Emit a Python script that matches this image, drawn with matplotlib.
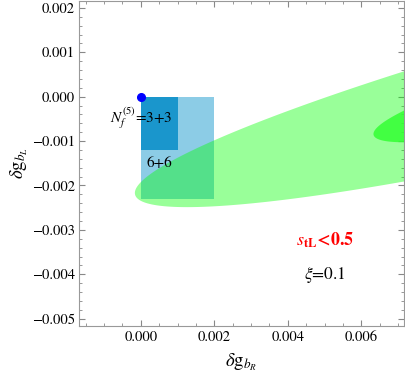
import matplotlib
matplotlib.use('Agg')
import matplotlib.pyplot as plt
import numpy as np
from matplotlib.ticker import MultipleLocator

plt.rcParams['font.family'] = ['STIXGeneral', 'DejaVu Serif']
plt.rcParams['mathtext.fontset'] = 'stix'

# rectangles (x range, y range)
rect_66_x = [0.0, 0.002]
rect_66_y = [-0.0023, 0.0]
rect_33_x = [0.0, 0.001]
rect_33_y = [-0.0012, 0.0]

# allowed region: sheared ellipse (centre, semi x, slope of axis, semi y)
ell_center = [0.01544, 0.001025]
ell_semi_x = 0.0156
ell_slope = 0.2047
ell_semi_y = 0.001464
ell_scales = [1.0, 0.584]
ell_colors = [(0.0, 1.0, 0.0, 0.4), (0.2, 1.0, 0.2, 0.85)]

point_x = [0.0]
point_y = [0.0]

fig = plt.figure(figsize=(4.05, 3.75), dpi=100)
ax = fig.add_axes([0.195, 0.1307, 0.8025, 0.8666])

ax.fill_between(rect_66_x, rect_66_y[0], rect_66_y[1], color='#8ccce6', lw=0, zorder=1)
ax.fill_between(rect_33_x, rect_33_y[0], rect_33_y[1], color='#1a96cc', lw=0, zorder=2)

t = np.linspace(0, 2 * np.pi, 400)
for s, c in zip(ell_scales, ell_colors):
    ex = ell_center[0] + s * ell_semi_x * np.cos(t)
    ey = ell_center[1] + ell_slope * s * ell_semi_x * np.cos(t) + s * ell_semi_y * np.sin(t)
    ax.fill(ex, ey, color=c, lw=0, zorder=3)

ax.plot(point_x, point_y, 'o', color='#0000ff', ms=5.5, zorder=5, clip_on=False)

ax.text(0.0, -0.00048, r'$N_f^{(5)}$=3+3', ha='center', va='center', fontsize=11, zorder=6)
ax.text(0.0005, -0.0015, '6+6', ha='center', va='center', fontsize=11, zorder=6)
ax.text(0.005, -0.00323, r'$\mathbf{\mathit{s}_{tL}}$<0.5', ha='center', va='center',
        fontsize=13, color='#ff0000', fontweight='bold', zorder=6)
ax.text(0.005, -0.00402, r'$\xi$=0.1', ha='center', va='center', fontsize=12.5, zorder=6)

ax.set_xlim(-0.00168, 0.00716)
ax.set_ylim(-0.005165, 0.002155)

ax.set_xticks([0.0, 0.002, 0.004, 0.006])
ax.set_xticklabels(['0.000', '0.002', '0.004', '0.006'])
ax.set_yticks([-0.005, -0.004, -0.003, -0.002, -0.001, 0.0, 0.001, 0.002])
ax.set_yticklabels(['\u22120.005', '\u22120.004', '\u22120.003', '\u22120.002',
                    '\u22120.001', '0.000', '0.001', '0.002'])
ax.xaxis.set_minor_locator(MultipleLocator(0.0005))
ax.yaxis.set_minor_locator(MultipleLocator(0.0002))
ax.tick_params(which='both', direction='in', top=True, right=True, color='#888888',
               labelsize=10.5, pad=3)
ax.tick_params(which='major', length=4, width=0.8)
ax.tick_params(which='minor', length=2.2, width=0.6)
for sp in ax.spines.values():
    sp.set_color('#999999')
    sp.set_linewidth(0.8)

ax.set_xlabel(r'$\delta\mathrm{g}_{b_R}$', fontsize=13.5, labelpad=6)
ax.set_ylabel(r'$\delta\mathrm{g}_{b_L}$', fontsize=13.5, labelpad=1)

fig.savefig('out.png', dpi=100)
